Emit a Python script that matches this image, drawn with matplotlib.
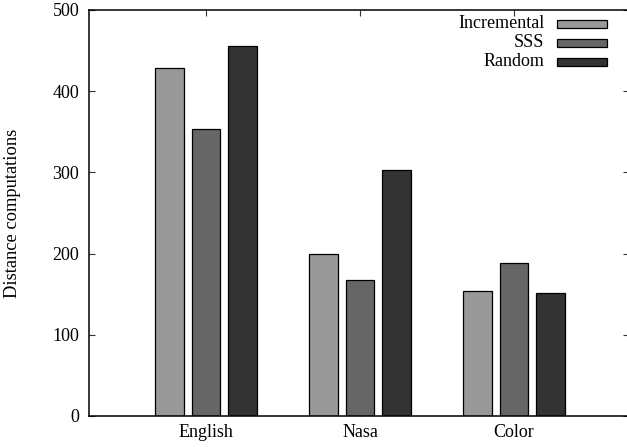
import numpy as np
import matplotlib
matplotlib.use("Agg")
import matplotlib.pyplot as plt
from matplotlib.patches import Rectangle

plt.rcParams['font.family'] = ['Liberation Serif', 'DejaVu Serif']
plt.rcParams['font.size'] = 13

datasets = ["English", "Nasa", "Color"]
methods = ["Incremental", "SSS", "Random"]
incremental = [428, 199, 154]
sss = [354, 168, 189]
random_pivots = [456, 303, 151]
series = [incremental, sss, random_pivots]
fills = ["#999999", "#666666", "#333333"]

fig = plt.figure(figsize=(6.27, 4.47), dpi=100)
ax = fig.add_axes([89 / 627, 31 / 447, 540 / 627, 406 / 447])

x = np.arange(len(datasets))
step = 0.237
width = 0.188
for i, (vals, col) in enumerate(zip(series, fills)):
    ax.bar(x + (i - 1) * step, vals, width, color=col, edgecolor="black",
           linewidth=0.9, zorder=2)

ax.set_xlim(-0.76, 2.747)
ax.set_ylim(0, 500)
ax.set_yticks([0, 100, 200, 300, 400, 500])
ax.set_xticks(x)
ax.set_xticklabels(datasets)
ax.tick_params(direction="in", top=True, right=True, length=4.5, width=0.8,
               color="#333333")
ax.tick_params(axis="y", pad=7)
ax.tick_params(axis="x", pad=6)
for s in ax.spines.values():
    s.set_linewidth(1.1)

ax.set_ylabel("Distance computations", fontsize=13.3)
ax.yaxis.set_label_coords(-0.126, 0.5)

# key box in the upper right, labels right-aligned before the swatches
rows = [0.966, 0.919, 0.872]
for name, col, yy in zip(methods, fills, rows):
    ax.text(0.843, yy, name, transform=ax.transAxes, ha="right", va="center")
    ax.add_patch(Rectangle((0.867, yy - 0.0099), 0.0926, 0.0197,
                           transform=ax.transAxes, facecolor=col,
                           edgecolor="black", linewidth=0.9, zorder=3))

fig.savefig("out.png", dpi=100)
